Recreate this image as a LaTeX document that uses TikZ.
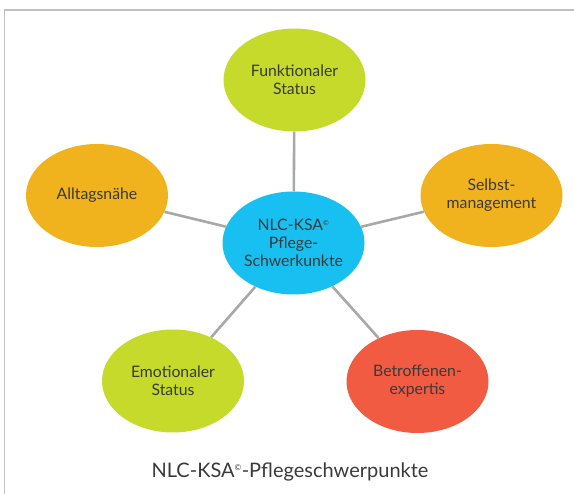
\documentclass[tikz,border=0pt]{standalone}
\usepackage{fontspec}
\setmainfont{Lato}
\usetikzlibrary{shapes.geometric}

\definecolor{lime}{HTML}{C6DA2C}
\definecolor{amber}{HTML}{F0B31D}
\definecolor{sky}{HTML}{17C0F0}
\definecolor{coral}{HTML}{F15B41}
\definecolor{spokegray}{HTML}{A8A8A8}
\definecolor{framegray}{HTML}{C0C0C0}
\definecolor{inkgray}{HTML}{3A3A3A}

\tikzset{
  bubble/.style={ellipse, minimum width=142pt, minimum height=103pt, inner sep=0pt,
    align=center, text=inkgray, font=\fontsize{15.8}{18}\selectfont},
  spoke/.style={draw=spokegray, line width=2.6pt},
}

\begin{document}
\begin{tikzpicture}[x=1pt,y=-1pt]
  \useasboundingbox (0,0) rectangle (574,494);
  % frame
  \draw[framegray, line width=1.5pt] (574,10) -- (4.5,10) -- (4.5,494);

  % bubbles
  \node[bubble, fill=sky]   (kern)    at (293.5,243) {NLC-KSA\textsuperscript{\scriptsize©}\\Pflege-\\Schwerkunkte};
  \node[bubble, fill=lime]  (status)  at (294.5,80)  {Funktionaler\\Status};
  \node[bubble, fill=amber] (alltag)  at (97,195.5)  {Alltagsnähe};
  \node[bubble, fill=amber] (selbst)  at (491.5,195.5) {Selbst-\\management};
  \node[bubble, fill=lime]  (emotion) at (173,381)   {Emotionaler\\Status};
  \node[bubble, fill=coral] (expert)  at (417.5,381.5) {Betroffenen-\\expertis};

  % spokes
  \foreach \n in {status,alltag,selbst,emotion,expert}
    \draw[spoke] (kern) -- (\n);

  \node[anchor=base, text=inkgray, font=\fontsize{20}{24}\selectfont] (titel) at (290,478)
    {NLC-KSA\textsuperscript{\footnotesize©}-Pflegeschwerpunkte};
\end{tikzpicture}
\end{document}
